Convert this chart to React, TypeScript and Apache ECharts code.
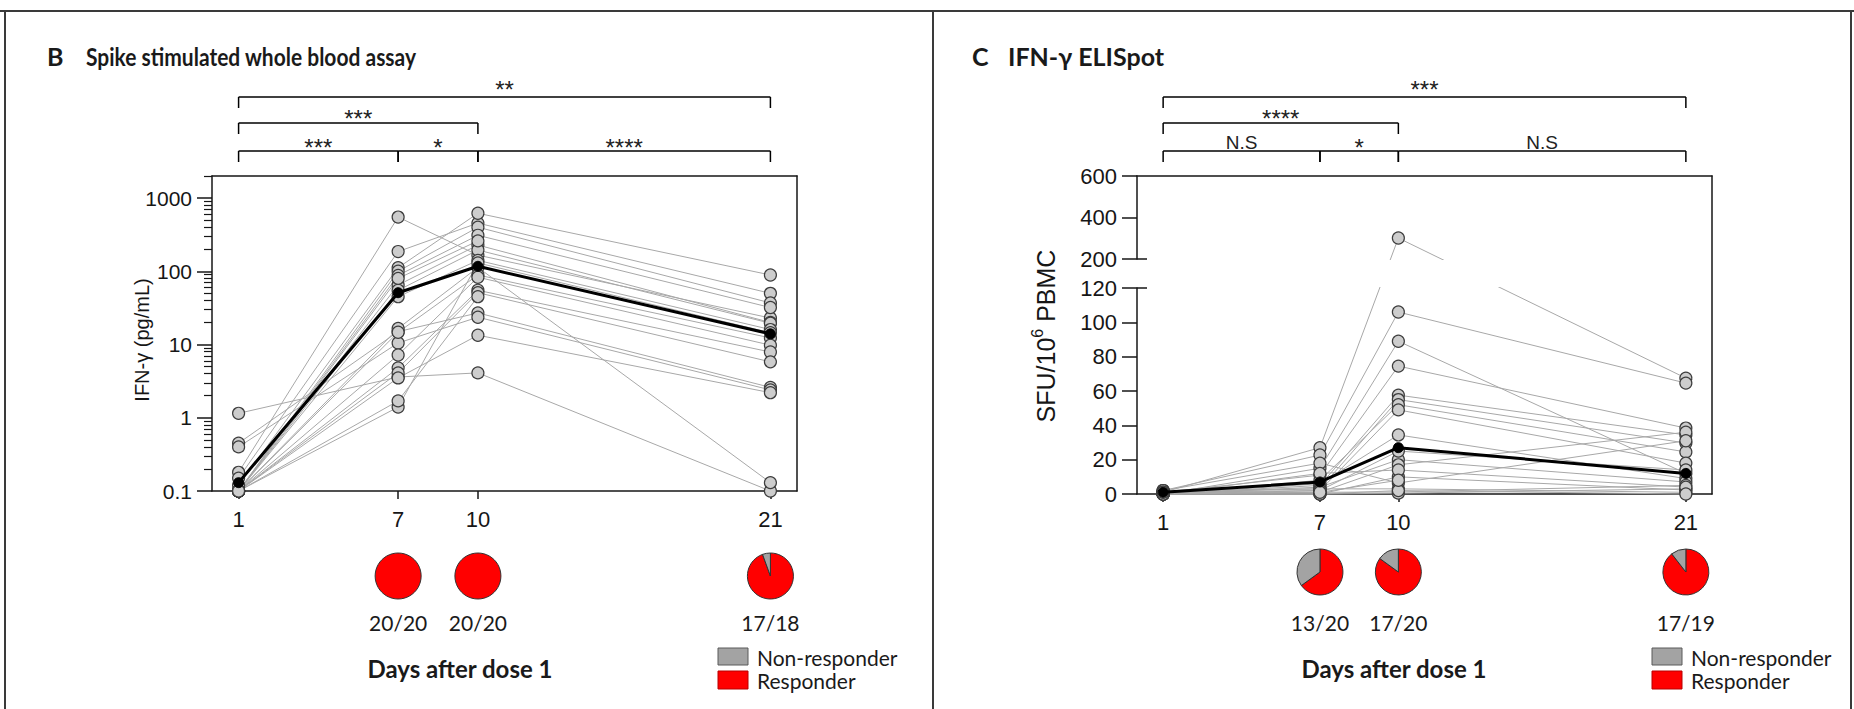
import React, { useEffect, useRef } from 'react';
import * as echarts from 'echarts';

// Sampling days after the first dose
const DAYS = [1, 7, 10, 21];

// Spike stimulated whole blood assay: IFN-γ (pg/mL) per participant on days 1, 7, 10, 21
const WBA_SUBJECTS: (number | null)[][] = [
  [1.15, 3.6, 4.1, 0.1],
  [0.45, 15, 27, 2.6],
  [0.4, 10.5, 23.6, 2.4],
  [0.18, 550, 166, 23],
  [0.15, 186, 455, 50],
  [0.12, 112, 620, 89],
  [0.1, 100, 400, 37],
  [0.1, 88, 310, 32],
  [0.1, 65, 228, 20],
  [0.1, 55, 195, 19.5],
  [0.1, 45, 141, 16],
  [0.1, 16.6, 113, 0.13],
  [0.1, 14.7, 89, 12.3],
  [0.1, 7.2, 83, 9.8],
  [0.1, 4.8, 55, 7.9],
  [0.1, 4.1, 51, 5.8],
  [0.1, 3.5, 13.4, 2.2],
  [0.1, 1.4, 130, 14.5],
  [0.1, 1.7, 45, null],
  [0.1, 80, 260, null],
];
const WBA_MEAN = [0.13, 51, 117, 14];
const WBA_MAJOR_TICKS = [0.1, 1, 10, 100, 1000];
const WBA_MINOR_TICKS = [
  0.2, 0.3, 0.4, 0.5, 0.6, 0.7, 0.8, 0.9,
  2, 3, 4, 5, 6, 7, 8, 9,
  20, 30, 40, 50, 60, 70, 80, 90,
  200, 300, 400, 500, 600, 700, 800, 900,
  2000,
];

// IFN-γ ELISpot: SFU per 10^6 PBMC per participant on days 1, 7, 10, 21
const ELI_SUBJECTS: (number | null)[][] = [
  [1, 27, 301, 67.5],
  [2, 22.7, 106, 64.6],
  [0, 15, 89, 12],
  [1, 11, 74.5, 38.4],
  [0, 5, 57.6, 34.4],
  [2, 3, 55, 29.7],
  [0, 8, 52, 24.5],
  [1, 2, 49, 18],
  [0, 6, 34.4, 9],
  [0, 4, 20, 7],
  [1, 1, 17, 36],
  [0, 0, 10, 2.3],
  [2, 18, 6.4, 31],
  [0, 1, 1.2, 5],
  [0, 0, 0.5, 3],
  [1, 3, 3, 1],
  [0, 2, 25, 14],
  [0, 12, 14, 4],
  [0, 0, 2, 0],
  [1, 1, 8, null],
];
const ELI_MEAN = [1, 7, 27, 12];
const ELI_LOW_RANGE = [0, 120];
const ELI_HIGH_RANGE = [200, 600];
const DAY_RANGE = [0, 22];

// Responders / participants tested, shown as pies under days 7, 10 and 21
const PIE_DAYS = [7, 10, 21];
const WBA_RESPONDERS = [20, 20, 17];
const WBA_TESTED = [20, 20, 18];
const ELI_RESPONDERS = [13, 17, 17];
const ELI_TESTED = [20, 20, 19];

// Pairwise comparisons: [from day, to day, row, significance]
type Bracket = [number, number, number, string];
const WBA_BRACKETS: Bracket[] = [
  [1, 21, 0, '**'],
  [1, 10, 1, '***'],
  [1, 7, 2, '***'],
  [7, 10, 2, '*'],
  [10, 21, 2, '****'],
];
const ELI_BRACKETS: Bracket[] = [
  [1, 21, 0, '***'],
  [1, 10, 1, '****'],
  [1, 7, 2, 'N.S'],
  [7, 10, 2, '*'],
  [10, 21, 2, 'N.S'],
];

const AXIS_FONT = '"Liberation Sans", Arial, sans-serif';
const LABEL_FONT = 'Lato, "Open Sans", sans-serif';
const INK = '#161616';
const FRAME = '#3a3a3a';
const SUBJECT_LINE = '#a8a8a8';
const RED = '#ff0000';
const GREY = '#a3a3a3';

const BRACKET_ROW_Y = [97, 123, 151];
const BRACKET_TEXT_Y = [84, 113, 142];

function toPoints(values: (number | null)[]) {
  const pts: number[][] = [];
  values.forEach((v, i) => {
    if (v !== null) pts.push([DAYS[i], v]);
  });
  return pts;
}

function allPoints(subjects: (number | null)[][]) {
  return subjects.flatMap((s) => toPoints(s));
}

function subjectLine(values: (number | null)[], xi: number, yi: number) {
  return {
    type: 'line',
    xAxisIndex: xi,
    yAxisIndex: yi,
    data: toPoints(values),
    symbol: 'none',
    clip: true,
    silent: true,
    lineStyle: { color: SUBJECT_LINE, width: 1 },
    z: 2,
  };
}

function subjectDots(data: number[][], xi: number, yi: number) {
  return {
    type: 'scatter',
    xAxisIndex: xi,
    yAxisIndex: yi,
    data,
    symbol: 'circle',
    symbolSize: 12,
    clip: true,
    silent: true,
    itemStyle: { color: '#cdcdcd', borderColor: '#3d3d3d', borderWidth: 1.2, opacity: 1 },
    z: 3,
  };
}

function meanLine(values: number[], xi: number, yi: number) {
  return {
    type: 'line',
    xAxisIndex: xi,
    yAxisIndex: yi,
    data: toPoints(values),
    symbol: 'circle',
    symbolSize: 10,
    clip: true,
    silent: true,
    lineStyle: { color: '#000', width: 3 },
    itemStyle: { color: '#000', borderColor: '#000' },
    z: 4,
  };
}

function dayAxis(gridIndex: number) {
  return {
    type: 'value',
    gridIndex,
    position: 'bottom',
    min: DAY_RANGE[0],
    max: DAY_RANGE[1],
    axisLine: { show: true, onZero: false, lineStyle: { color: INK, width: 1.5 } },
    axisTick: { show: true, length: 8, customValues: DAYS, lineStyle: { color: INK, width: 1.5 } },
    axisLabel: {
      show: true,
      customValues: DAYS,
      margin: 17,
      fontFamily: AXIS_FONT,
      fontSize: 22,
      color: INK,
      formatter: (v: number) => String(v),
    },
    splitLine: { show: false },
  };
}

function borderAxis(gridIndex: number, position: string) {
  return {
    type: 'value',
    gridIndex,
    position,
    min: 0,
    max: 1,
    axisLine: { show: true, onZero: false, lineStyle: { color: INK, width: 1.5 } },
    axisTick: { show: false },
    axisLabel: { show: false },
    splitLine: { show: false },
  };
}

function linearAxis(gridIndex: number, range: number[], interval: number) {
  return {
    type: 'value',
    gridIndex,
    position: 'left',
    min: range[0],
    max: range[1],
    interval,
    axisLine: { show: true, onZero: false, lineStyle: { color: INK, width: 1.5 } },
    axisTick: { show: true, length: 15, lineStyle: { color: INK, width: 1.5 } },
    axisLabel: { margin: 20, fontFamily: AXIS_FONT, fontSize: 22, color: INK },
    splitLine: { show: false },
  };
}

function breakCapAxis(gridIndex: number, range: number[], value: number) {
  return {
    type: 'value',
    gridIndex,
    position: 'left',
    min: range[0],
    max: range[1],
    axisLine: { show: false, onZero: false },
    axisTick: { show: true, inside: true, length: 10, customValues: [value], lineStyle: { color: INK, width: 1.5 } },
    axisLabel: { show: false },
    splitLine: { show: false },
  };
}

type Layout = {
  wba: number[];
  eli: number[];
  eliPaths: number[][][];
  band: { x1: number; x2: number; y1: number; y2: number };
};

function dayX(xs: number[], day: number) {
  return xs[DAYS.indexOf(day)];
}

function bracketGraphics(brackets: Bracket[], xs: number[]) {
  const els: any[] = [];
  brackets.forEach(([from, to, row, label]) => {
    const x1 = dayX(xs, from);
    const x2 = dayX(xs, to);
    const y = BRACKET_ROW_Y[row];
    const stroke = { stroke: '#000', lineWidth: 1.5 };
    els.push({ type: 'line', silent: true, shape: { x1, y1: y, x2, y2: y }, style: stroke });
    els.push({ type: 'line', silent: true, shape: { x1, y1: y, x2: x1, y2: y + 11 }, style: stroke });
    els.push({ type: 'line', silent: true, shape: { x1: x2, y1: y, x2, y2: y + 11 }, style: stroke });
    const isStars = label.indexOf('*') >= 0;
    const size = isStars ? 24 : 19;
    els.push({
      type: 'text',
      silent: true,
      x: (x1 + x2) / 2,
      y: BRACKET_TEXT_Y[row] + (isStars ? 5 : 0),
      style: {
        text: label,
        fontFamily: AXIS_FONT,
        fontSize: size,
        fill: '#222',
        align: 'center',
        textAlign: 'center',
        verticalAlign: 'middle',
        textVerticalAlign: 'middle',
      },
    });
  });
  return els;
}

function pieSeries(xs: number[], cy: number, responders: number[], tested: number[]) {
  return PIE_DAYS.map((day, i) => {
    const data: any[] = [{ value: responders[i], name: 'Responder', itemStyle: { color: RED } }];
    const non = tested[i] - responders[i];
    if (non > 0) data.push({ value: non, name: 'Non-responder', itemStyle: { color: GREY } });
    return {
      type: 'pie',
      center: [dayX(xs, day), cy],
      radius: 23,
      startAngle: 90,
      clockwise: true,
      silent: true,
      label: { show: false },
      labelLine: { show: false },
      emphasis: { disabled: true },
      itemStyle: { borderColor: '#333', borderWidth: 1 },
      data,
    };
  });
}

function text(x: number, y: number, t: string, extra: any = {}, el: any = {}) {
  return {
    type: 'text',
    silent: true,
    x,
    y,
    ...el,
    style: {
      text: t,
      fontFamily: LABEL_FONT,
      fontSize: 21,
      fill: '#1a1a1a',
      align: 'left',
      textAlign: 'left',
      verticalAlign: 'middle',
      textVerticalAlign: 'middle',
      ...extra,
    },
  };
}

function countLabels(xs: number[], y: number, responders: number[], tested: number[]) {
  return PIE_DAYS.map((day, i) =>
    text(dayX(xs, day), y, `${responders[i]}/${tested[i]}`, { align: 'center', textAlign: 'center' })
  );
}

function legend(x: number) {
  return [
    { type: 'rect', silent: true, shape: { x, y: 648, width: 30, height: 17 }, style: { fill: GREY, stroke: '#5a5a5a', lineWidth: 1 } },
    { type: 'rect', silent: true, shape: { x, y: 671, width: 30, height: 18 }, style: { fill: RED, stroke: '#b80000', lineWidth: 1 } },
    text(x + 39, 657, 'Non-responder'),
    text(x + 39, 680, 'Responder'),
  ];
}

function buildOption(layout: Layout | null) {
  const series: any[] = [];

  WBA_SUBJECTS.forEach((s) => series.push(subjectLine(s, 0, 0)));
  series.push(subjectDots(allPoints(WBA_SUBJECTS), 0, 0));
  series.push(meanLine(WBA_MEAN, 0, 0));

  if (layout) {
    // ELISpot participant lines: straight in screen space across the broken y axis
    series.push({
      type: 'custom',
      coordinateSystem: 'none',
      silent: true,
      z: 2,
      data: ELI_SUBJECTS.map((_, i) => i),
      renderItem: (params: any) => ({
        type: 'polyline',
        shape: { points: layout.eliPaths[params.dataIndex] },
        style: { stroke: SUBJECT_LINE, lineWidth: 1, fill: null },
      }),
    });
  }
  const eliPts = allPoints(ELI_SUBJECTS);
  series.push(subjectDots(eliPts.filter((p) => p[1] <= ELI_LOW_RANGE[1]), 2, 3));
  series.push(subjectDots(eliPts.filter((p) => p[1] >= ELI_HIGH_RANGE[0]), 3, 5));
  series.push(meanLine(ELI_MEAN, 2, 3));

  const graphics: any[] = [
    // panel frame
    { type: 'line', silent: true, shape: { x1: 0, y1: 11, x2: 1854, y2: 11 }, style: { stroke: FRAME, lineWidth: 2 } },
    { type: 'line', silent: true, shape: { x1: 5, y1: 11, x2: 5, y2: 709 }, style: { stroke: FRAME, lineWidth: 2 } },
    { type: 'line', silent: true, shape: { x1: 933, y1: 11, x2: 933, y2: 709 }, style: { stroke: FRAME, lineWidth: 2 } },
    { type: 'line', silent: true, shape: { x1: 1851, y1: 11, x2: 1851, y2: 709 }, style: { stroke: FRAME, lineWidth: 2 } },
    // titles
    text(47, 56, 'B', { fontWeight: 'bold', fontSize: 25 }),
    text(86, 56, 'Spike stimulated whole blood assay', { fontWeight: 'bold', fontSize: 25 }, { scaleX: 0.84 }),
    text(972, 56, 'C', { fontWeight: 'bold', fontSize: 25 }),
    text(1008, 56, 'IFN-γ ELISpot', { fontWeight: 'bold', fontSize: 25 }),
    // y axis names
    {
      type: 'text',
      silent: true,
      x: 142,
      y: 340,
      rotation: Math.PI / 2,
      style: {
        text: 'IFN-γ (pg/mL)',
        fontFamily: AXIS_FONT,
        fontSize: 20,
        fill: INK,
        align: 'center',
        textAlign: 'center',
        verticalAlign: 'middle',
        textVerticalAlign: 'middle',
      },
    },
    {
      type: 'text',
      silent: true,
      x: 1046,
      y: 336,
      rotation: Math.PI / 2,
      style: {
        text: '{n|SFU/10}{s|6}{n| PBMC}',
        align: 'center',
        textAlign: 'center',
        verticalAlign: 'middle',
        textVerticalAlign: 'middle',
        rich: {
          n: { fontFamily: AXIS_FONT, fontSize: 25, lineHeight: 34, fill: INK, color: INK },
          s: { fontFamily: AXIS_FONT, fontSize: 16, verticalAlign: 'top', fill: INK, color: INK },
        },
      },
    },
    text(460, 668, 'Days after dose 1', { fontWeight: 'bold', fontSize: 24, align: 'center', textAlign: 'center' }),
    text(1394, 668, 'Days after dose 1', { fontWeight: 'bold', fontSize: 24, align: 'center', textAlign: 'center' }),
    ...legend(718),
    ...legend(1652),
  ];

  if (layout) {
    const b = layout.band;
    // blank band where the ELISpot y axis is broken
    graphics.push({
      type: 'rect',
      silent: true,
      z: 10,
      shape: { x: b.x1, y: b.y1, width: b.x2 - b.x1, height: b.y2 - b.y1 },
      style: { fill: '#ffffff' },
    });
    graphics.push(...bracketGraphics(WBA_BRACKETS, layout.wba));
    graphics.push(...bracketGraphics(ELI_BRACKETS, layout.eli));
    graphics.push(...countLabels(layout.wba, 622, WBA_RESPONDERS, WBA_TESTED));
    graphics.push(...countLabels(layout.eli, 622, ELI_RESPONDERS, ELI_TESTED));
    series.push(...pieSeries(layout.wba, 576, WBA_RESPONDERS, WBA_TESTED));
    series.push(...pieSeries(layout.eli, 572, ELI_RESPONDERS, ELI_TESTED));
  }

  return {
    animation: false,
    backgroundColor: '#ffffff',
    grid: [
      { left: 212, top: 176, width: 585, height: 315, outerBoundsMode: 'none' },
      { left: 1137, top: 288, width: 575, height: 206, outerBoundsMode: 'none' },
      { left: 1137, top: 176, width: 575, height: 83, outerBoundsMode: 'none' },
      { left: 1137, top: 176, width: 575, height: 318, outerBoundsMode: 'none' },
    ],
    xAxis: [
      dayAxis(0),
      borderAxis(0, 'top'),
      dayAxis(1),
      { type: 'value', gridIndex: 2, min: DAY_RANGE[0], max: DAY_RANGE[1], show: false },
      borderAxis(3, 'top'),
    ],
    yAxis: [
      {
        type: 'log',
        gridIndex: 0,
        position: 'left',
        min: 0.1,
        max: 2000,
        axisLine: { show: true, onZero: false, lineStyle: { color: INK, width: 1.5 } },
        axisTick: { show: true, length: 15, customValues: WBA_MAJOR_TICKS, lineStyle: { color: INK, width: 1.5 } },
        axisLabel: {
          customValues: WBA_MAJOR_TICKS,
          margin: 20,
          fontFamily: AXIS_FONT,
          fontSize: 21,
          color: INK,
          formatter: (v: number) => {
            const e = Math.log10(v);
            return Math.abs(e - Math.round(e)) < 1e-6 ? String(Number(v.toPrecision(3))) : '';
          },
        },
        splitLine: { show: false },
      },
      {
        type: 'log',
        gridIndex: 0,
        position: 'left',
        min: 0.1,
        max: 2000,
        axisLine: { show: false, onZero: false },
        axisTick: { show: true, length: 8, customValues: WBA_MINOR_TICKS, lineStyle: { color: INK, width: 1.2 } },
        axisLabel: { show: false },
        splitLine: { show: false },
      },
      borderAxis(0, 'right'),
      linearAxis(1, ELI_LOW_RANGE, 20),
      breakCapAxis(1, ELI_LOW_RANGE, ELI_LOW_RANGE[1]),
      linearAxis(2, ELI_HIGH_RANGE, 200),
      breakCapAxis(2, ELI_HIGH_RANGE, ELI_HIGH_RANGE[0]),
      borderAxis(3, 'right'),
    ],
    series,
    graphic: { elements: graphics },
  };
}

export default function App() {
  const ref = useRef<HTMLDivElement>(null);

  useEffect(() => {
    if (!ref.current) return;
    const chart = echarts.init(ref.current, null, { renderer: 'svg' });
    chart.setOption(buildOption(null) as any);

    const px = (xAxisIndex: number, day: number) =>
      chart.convertToPixel({ xAxisIndex }, day) as unknown as number;
    const lowPx = (p: number[]) =>
      chart.convertToPixel({ xAxisIndex: 2, yAxisIndex: 3 }, p) as unknown as number[];
    const highPx = (p: number[]) =>
      chart.convertToPixel({ xAxisIndex: 3, yAxisIndex: 5 }, p) as unknown as number[];

    const eliPaths = ELI_SUBJECTS.map((s) =>
      toPoints(s).map((p) => (p[1] >= ELI_HIGH_RANGE[0] ? highPx(p) : lowPx(p)))
    );
    const bandLow = lowPx([DAY_RANGE[0], ELI_LOW_RANGE[1]]);
    const bandHigh = highPx([DAY_RANGE[1], ELI_HIGH_RANGE[0]]);

    const layout: Layout = {
      wba: DAYS.map((d) => px(0, d)),
      eli: DAYS.map((d) => px(2, d)),
      eliPaths,
      band: { x1: bandLow[0] + 1, x2: bandHigh[0] - 1, y1: bandHigh[1] + 1, y2: bandLow[1] - 1 },
    };
    chart.setOption(buildOption(layout) as any, true);
    return () => chart.dispose();
  }, []);

  return (
    <div
      ref={ref}
      style={{ position: 'fixed', left: 0, top: 0, width: 1854, height: 709, background: '#fff' }}
    />
  );
}
